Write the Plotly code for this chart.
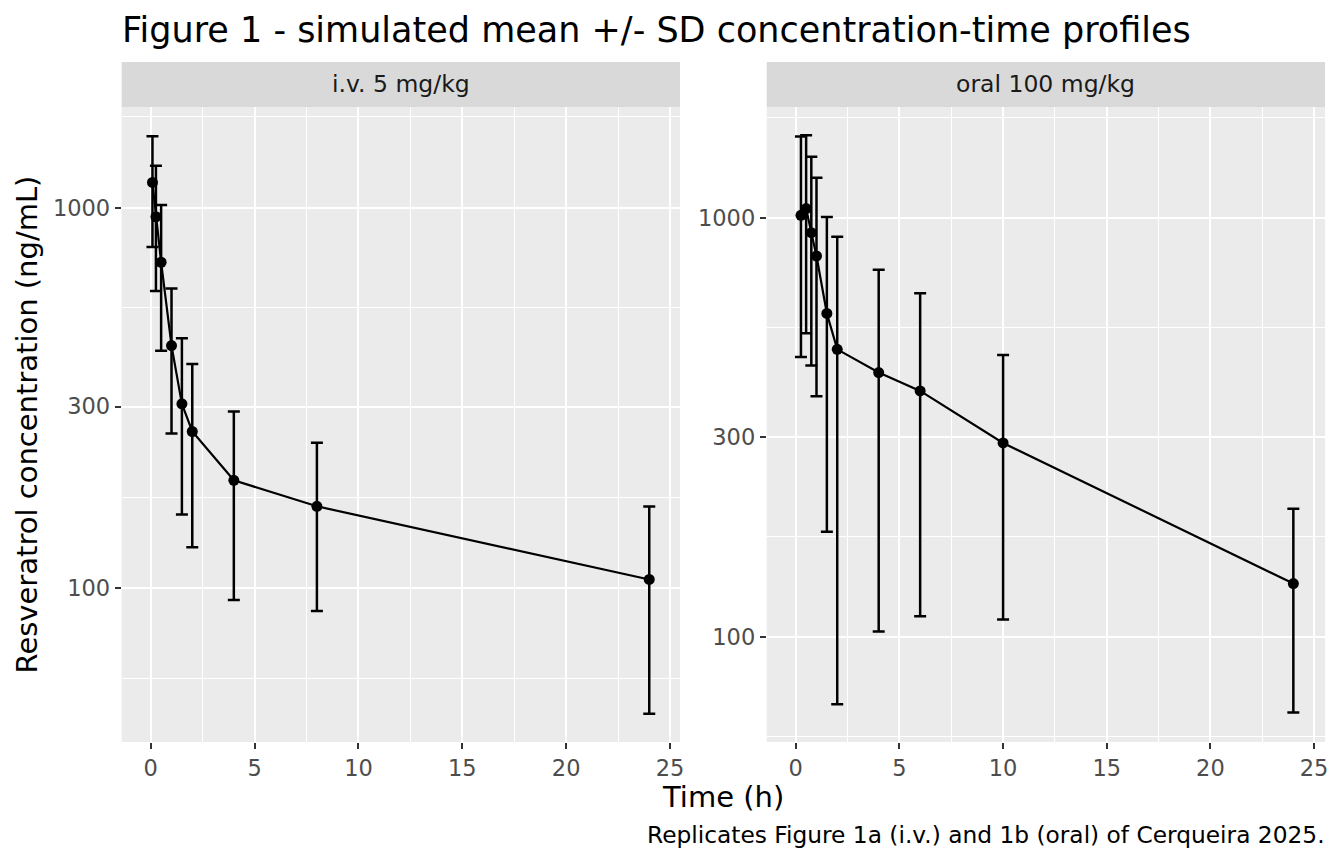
import plotly.graph_objs as go

# i.v. 5 mg/kg
iv_time = [0.083, 0.25, 0.5, 1, 1.5, 2, 4, 8, 24]
iv_mean = [1166, 947, 719, 434, 305, 258, 192, 164, 105.3]
iv_sd = [377, 343, 298, 179, 149, 130, 99, 77, 58.6]

# oral 100 mg/kg
po_time = [0.25, 0.5, 0.75, 1, 1.5, 2, 4, 6, 10, 24]
po_mean = [1013, 1051, 921, 810, 591, 485, 427, 386, 290, 134]
po_sd = [548, 521, 477, 435, 413, 416, 324, 274, 180, 68]

panel_labels = ['i.v. 5 mg/kg', 'oral 100 mg/kg']
y_ticks = [100, 300, 1000]
x_ticks = [0, 5, 10, 15, 20, 25]

W, H = 1344, 864
OFF = 8  # page body margin
font = 'DejaVu Sans'
bg = '#EBEBEB'


def px(x):
    return (x - OFF) / W


def py(y):
    return 1 - (y - OFF) / H


fig = go.Figure()
for t, m, s, xa, ya in [(iv_time, iv_mean, iv_sd, 'x', 'y'),
                        (po_time, po_mean, po_sd, 'x2', 'y2')]:
    fig.add_trace(go.Scatter(x=t, y=m,
                             mode='lines+markers',
                             xaxis=xa, yaxis=ya,
                             line=dict(color='black', width=2.2),
                             marker=dict(color='black', size=11),
                             error_y=dict(type='data', array=s, visible=True,
                                          color='black', thickness=2.5, width=6),
                             showlegend=False,
                             ))

# panel positions (pixels in the reference)
left = (122, 682)
right = (769, 1329)
top, bottom, strip_top = 107, 742, 62

tickfont = dict(family=font, size=22.5, color='#4D4D4D')
xcommon = dict(tickvals=x_ticks, ticks='outside', ticklen=6, tickwidth=2,
               tickcolor='#333333', tickfont=tickfont,
               showgrid=True, gridcolor='white', gridwidth=2, zeroline=False,
               showline=False,
               minor=dict(tickvals=[2.5, 7.5, 12.5, 17.5, 22.5], showgrid=True,
                          gridcolor='white', gridwidth=1, ticks=''))
ycommon = dict(type='log', tickvals=y_ticks, ticktext=[str(v) for v in y_ticks],
               ticks='outside', ticklen=6, tickwidth=2, tickcolor='#333333',
               tickfont=tickfont,
               showgrid=True, gridcolor='white', gridwidth=2, zeroline=False,
               showline=False,
               minor=dict(tickvals=[10 ** 1.761, 10 ** 2.239, 10 ** 2.739, 10 ** 3.239],
                          showgrid=True, gridcolor='white', gridwidth=1, ticks=''))

fig.update_layout(
    width=W, height=H,
    paper_bgcolor='white', plot_bgcolor=bg,
    margin=dict(l=0, r=0, t=0, b=0),
    xaxis=dict(domain=[px(left[0]), px(left[1])], range=[-1.4, 25.48], anchor='y', **xcommon),
    xaxis2=dict(domain=[px(right[0]), px(right[1])], range=[-1.4, 25.53], anchor='y2', **xcommon),
    yaxis=dict(domain=[py(bottom), py(top)], range=[1.595, 3.265], anchor='x', **ycommon),
    yaxis2=dict(domain=[py(bottom), py(top)], range=[1.749, 3.264], anchor='x2', **ycommon),
)

# strips
for (x0, x1), lab in zip([left, right], panel_labels):
    fig.add_shape(type='rect', xref='paper', yref='paper',
                  x0=px(x0), x1=px(x1), y0=py(top), y1=py(strip_top),
                  fillcolor='#D9D9D9', line=dict(width=0), layer='below')
    fig.add_annotation(text=lab, xref='paper', yref='paper',
                       x=px((x0 + x1) / 2), y=py((top + strip_top) / 2),
                       showarrow=False, xanchor='center', yanchor='middle',
                       font=dict(family=font, size=23.5, color='#1A1A1A'))

fig.add_annotation(text='Figure 1 - simulated mean +/- SD concentration-time profiles',
                   xref='paper', yref='paper', x=px(120), y=py(30),
                   xanchor='left', yanchor='middle', showarrow=False,
                   font=dict(family=font, size=35, color='black'))
fig.add_annotation(text='Time (h)', xref='paper', yref='paper',
                   x=px((left[0] + right[1]) / 2), y=py(797),
                   xanchor='center', yanchor='middle', showarrow=False,
                   font=dict(family=font, size=29, color='black'))
fig.add_annotation(text='Resveratrol concentration (ng/mL)', xref='paper', yref='paper',
                   x=px(28), y=py((top + bottom) / 2), textangle=-90,
                   xanchor='center', yanchor='middle', showarrow=False,
                   font=dict(family=font, size=29, color='black'))
fig.add_annotation(text='Replicates Figure 1a (i.v.) and 1b (oral) of Cerqueira 2025.',
                   xref='paper', yref='paper', x=px(right[1] + 2), y=py(834),
                   xanchor='right', yanchor='middle', showarrow=False,
                   font=dict(family=font, size=23.3, color='black'))

fig.write_html("out.html")
